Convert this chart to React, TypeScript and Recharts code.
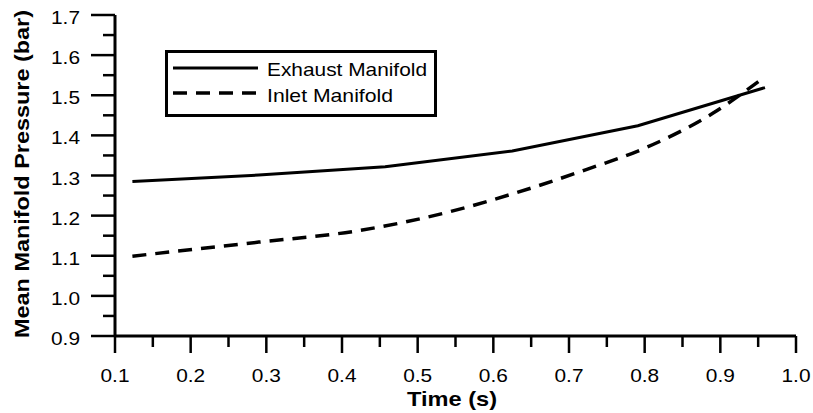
import { LineChart, Line, XAxis, YAxis, Legend, Label } from 'recharts'

const exhaustTime = [0.123, 0.29, 0.457, 0.625, 0.791, 0.959]
const exhaustPressure = [1.285, 1.301, 1.322, 1.361, 1.424, 1.519]
const inletTime = [0.123, 0.29, 0.42, 0.543, 0.625, 0.72, 0.8, 0.89, 0.959]
const inletPressure = [1.099, 1.134, 1.162, 1.21, 1.254, 1.313, 1.368, 1.455, 1.546]

const xTicks = [0.1, 0.15, 0.2, 0.25, 0.3, 0.35, 0.4, 0.45, 0.5, 0.55, 0.6, 0.65, 0.7, 0.75, 0.8, 0.85, 0.9, 0.95, 1.0]
const yTicks = [0.9, 0.95, 1.0, 1.05, 1.1, 1.15, 1.2, 1.25, 1.3, 1.35, 1.4, 1.45, 1.5, 1.55, 1.6, 1.65, 1.7]

const font = '"Liberation Sans", Arial, sans-serif'

const exhaustData = exhaustTime.map((t, i) => ({ t, exhaust: exhaustPressure[i] }))
const inletData = inletTime.map((t, i) => ({ t, inlet: inletPressure[i] }))

const isMajor = (v: number) => Math.abs(v * 10 - Math.round(v * 10)) < 1e-6

function XTick({ x, y, payload }: any) {
	const major = isMajor(payload.value)
	return (
		<g>
			<line x1={x} x2={x} y1={y} y2={y + (major ? 17 : 11)} stroke="#000" strokeWidth={2.5} />
			{major && (
				<text x={x} y={y + 46} textAnchor="middle" fontSize={19} fontFamily={font} fill="#000"
					textLength={29} lengthAdjust="spacingAndGlyphs">
					{payload.value.toFixed(1)}
				</text>
			)}
		</g>
	)
}

function YTick({ x, y, payload }: any) {
	const major = isMajor(payload.value)
	return (
		<g>
			<line x1={x - (major ? 24 : 12)} x2={x} y1={y} y2={y} stroke="#000" strokeWidth={2.5} />
			{major && (
				<text x={x - 35} y={y + 9} textAnchor="end" fontSize={19} fontFamily={font} fill="#000"
					textLength={29} lengthAdjust="spacingAndGlyphs">
					{payload.value.toFixed(1)}
				</text>
			)}
		</g>
	)
}

function LegendBox() {
	return (
		<svg width={272} height={67} style={{ display: 'block' }}>
			<rect x={1.5} y={1.5} width={269} height={64} fill="#fff" stroke="#000" strokeWidth={3} />
			<line x1={8} x2={93} y1={18} y2={18} stroke="#000" strokeWidth={3} />
			<line x1={8} x2={93} y1={43} y2={43} stroke="#000" strokeWidth={3.5} strokeDasharray="14 9" />
			<text x={102} y={26} fontSize={19} fontFamily={font} fill="#000"
				textLength={160} lengthAdjust="spacingAndGlyphs">Exhaust Manifold</text>
			<text x={102} y={52} fontSize={19} fontFamily={font} fill="#000"
				textLength={126} lengthAdjust="spacingAndGlyphs">Inlet Manifold</text>
		</svg>
	)
}

export default function App() {
	return (
		<div style={{ position: 'absolute', left: 0, top: 0, background: '#fff' }}>
			<LineChart width={813} height={413} margin={{ top: 15, right: 17, left: 0, bottom: 0 }}>
				<XAxis
					type="number"
					dataKey="t"
					domain={[0.1, 1.0]}
					ticks={xTicks}
					interval={0}
					height={77}
					tickSize={0}
					tickMargin={0}
					tickLine={false}
					axisLine={{ stroke: '#000', strokeWidth: 3 }}
					tick={<XTick />}
					allowDataOverflow
				>
					<Label
						content={() => (
							<text x={452} y={406} textAnchor="middle" fontSize={21} fontWeight="bold" fontFamily={font}
								fill="#000" textLength={90} lengthAdjust="spacingAndGlyphs">
								Time (s)
							</text>
						)}
					/>
				</XAxis>
				<YAxis
					type="number"
					domain={[0.9, 1.7]}
					ticks={yTicks}
					interval={0}
					width={115}
					tickSize={0}
					tickMargin={0}
					tickLine={false}
					axisLine={{ stroke: '#000', strokeWidth: 3 }}
					tick={<YTick />}
					allowDataOverflow
				>
					<Label
						content={() => (
							<text x={29} y={174} transform="rotate(-90, 29, 174)" textAnchor="middle" fontSize={21}
								fontWeight="bold" fontFamily={font} fill="#000" textLength={328} lengthAdjust="spacingAndGlyphs">
								Mean Manifold Pressure (bar)
							</text>
						)}
					/>
				</YAxis>
				<Legend
					layout="horizontal"
					verticalAlign="middle"
					align="center"
					wrapperStyle={{ top: 50, left: 165, width: 'auto' }}
					content={<LegendBox />}
				/>
				<Line data={exhaustData} dataKey="exhaust" name="Exhaust Manifold" type="linear" stroke="#000"
					strokeWidth={3} dot={false} isAnimationActive={false} />
				<Line data={inletData} dataKey="inlet" name="Inlet Manifold" type="monotone" stroke="#000"
					strokeWidth={3.5} strokeDasharray="14 9" dot={false} isAnimationActive={false} />
			</LineChart>
		</div>
	)
}
